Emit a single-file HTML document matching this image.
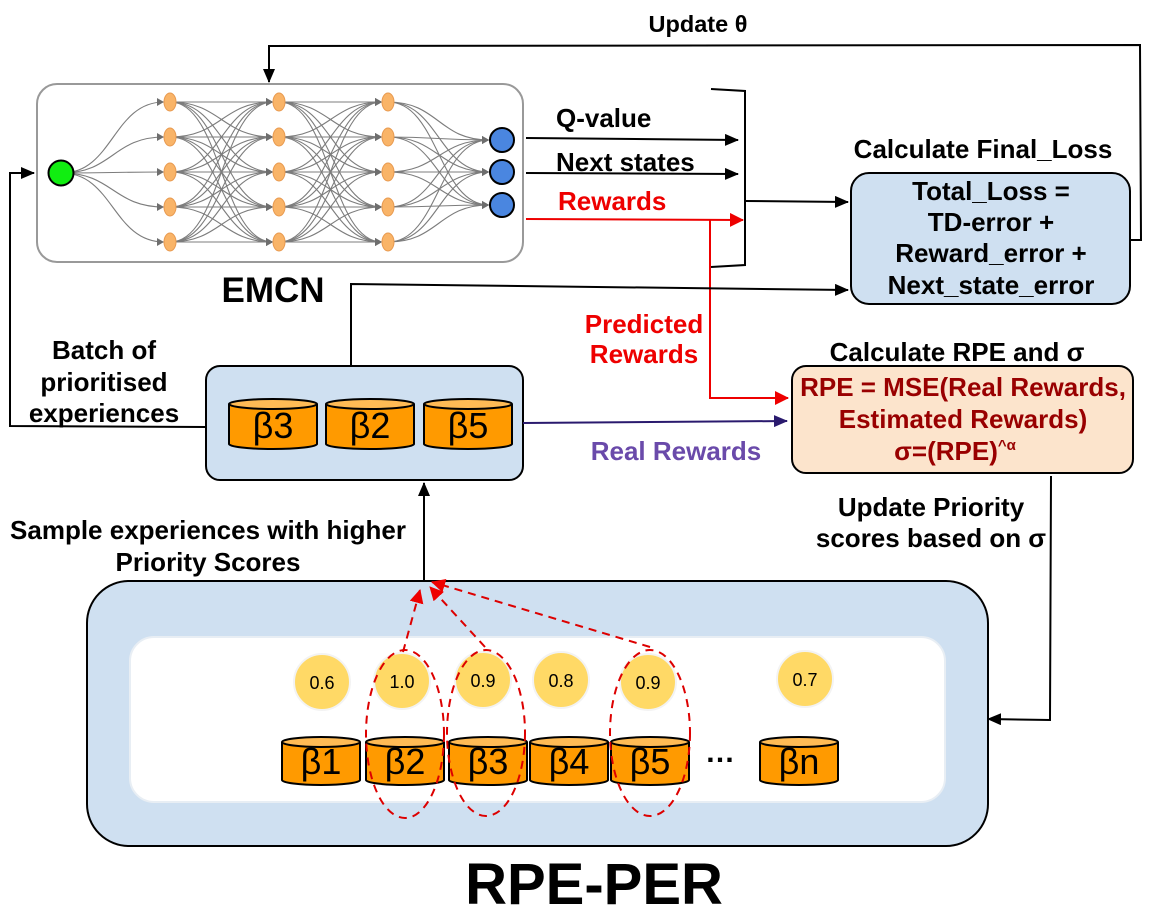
<!DOCTYPE html>
<html><head><meta charset="utf-8"><style>
body{margin:0;background:#fff}
svg{display:block;font-family:"Liberation Sans",sans-serif}
</style></head><body>
<svg id="s" width="1159" height="909" viewBox="0 0 1159 909" xmlns="http://www.w3.org/2000/svg">
<defs>
<marker id="ak" markerWidth="14" markerHeight="12" refX="13" refY="6" orient="auto" markerUnits="userSpaceOnUse"><path d="M0,0 L14,6 L0,12 z" fill="#000"/></marker>
<marker id="ar" markerWidth="14" markerHeight="14" refX="13" refY="7" orient="auto" markerUnits="userSpaceOnUse"><path d="M0,0 L14,7 L0,14 z" fill="#e00"/></marker>
<marker id="ap" markerWidth="14" markerHeight="12" refX="13" refY="6" orient="auto" markerUnits="userSpaceOnUse"><path d="M0,0 L14,6 L0,12 z" fill="#2a1a6e"/></marker>
<marker id="ag" markerWidth="7" markerHeight="8" refX="7" refY="4" orient="auto" markerUnits="userSpaceOnUse"><path d="M0,0 L7,4 L0,8 z" fill="#555"/></marker>
</defs>
<rect x="37" y="84" width="486" height="178" rx="20" fill="#fff" stroke="#999" stroke-width="2"/>
<g id="nn" fill="none" stroke="#666" stroke-width="1.1" opacity="0.85"></g>
<g id="nodes"></g>
<text x="273" y="302" font-size="35" font-weight="bold" text-anchor="middle">EMCN</text>

<text x="556" y="127" font-size="26" font-weight="bold">Q-value</text>
<text x="556" y="171" font-size="26" font-weight="bold">Next  states</text>
<text x="558" y="210" font-size="26" font-weight="bold" fill="#e00">Rewards</text>
<line x1="526" y1="138" x2="738" y2="140" stroke="#000" stroke-width="2" marker-end="url(#ak)"/>
<line x1="526" y1="173" x2="738" y2="174" stroke="#000" stroke-width="2" marker-end="url(#ak)"/>
<line x1="526" y1="219" x2="743" y2="220" stroke="#e00" stroke-width="2" marker-end="url(#ar)"/>
<path d="M711,89 L745,91 L745,265 L711,267" fill="none" stroke="#000" stroke-width="2"/>
<line x1="745" y1="201" x2="848" y2="202" stroke="#000" stroke-width="2" marker-end="url(#ak)"/>

<text x="983" y="158" font-size="26" font-weight="bold" text-anchor="middle">Calculate Final_Loss</text>
<rect x="851" y="173" width="279" height="131" rx="18" fill="#cfe0f1" stroke="#000" stroke-width="2"/>
<g font-size="26" font-weight="bold" text-anchor="middle">
<text x="991" y="200">Total_Loss =</text>
<text x="991" y="231">TD-error +</text>
<text x="991" y="262">Reward_error +</text>
<text x="991" y="294">Next_state_error</text>
</g>
<path d="M1130,240 L1141,240 L1140,45 L269,46 L269,82" fill="none" stroke="#000" stroke-width="2" marker-end="url(#ak)"/>
<text x="698" y="32" font-size="23.5" font-weight="bold" text-anchor="middle">Update θ</text>

<path d="M710,220 L710,398 L788,398" fill="none" stroke="#e00" stroke-width="2" marker-end="url(#ar)"/>
<text x="644" y="333" font-size="26" font-weight="bold" fill="#e00" text-anchor="middle">Predicted</text>
<text x="644" y="363" font-size="26" font-weight="bold" fill="#e00" text-anchor="middle">Rewards</text>

<text x="957" y="361" font-size="26" font-weight="bold" text-anchor="middle">Calculate RPE and σ</text>
<rect x="792" y="366" width="341" height="107" rx="14" fill="#fce4cc" stroke="#000" stroke-width="2"/>
<g font-size="26" font-weight="bold" fill="#990000" text-anchor="middle">
<text x="963" y="396">RPE = MSE(Real Rewards,</text>
<text x="963" y="428">Estimated Rewards)</text>
<text x="955" y="460">σ=(RPE)<tspan font-size="15" dy="-10">^α</tspan></text>
</g>

<rect x="206" y="366" width="317" height="114" rx="14" fill="#cfe0f1" stroke="#000" stroke-width="2"/>
<g id="cyl"></g>
<line x1="523" y1="423" x2="787" y2="421" stroke="#2a1a6e" stroke-width="2" marker-end="url(#ap)"/>
<text x="676" y="460" font-size="26" font-weight="bold" fill="#6a4aaa" text-anchor="middle">Real Rewards</text>
<path d="M351,366 L351,284 L848,290" fill="none" stroke="#000" stroke-width="2" marker-end="url(#ak)"/>
<path d="M206,427 L10,426 L10,173 L34,173" fill="none" stroke="#000" stroke-width="2" marker-end="url(#ak)"/>
<g font-size="26" font-weight="bold" text-anchor="middle">
<text x="104" y="359">Batch of</text>
<text x="104" y="391">prioritised</text>
<text x="104" y="422">experiences</text>
<text x="208" y="539">Sample experiences with higher</text>
<text x="208" y="571">Priority Scores</text>
<text x="931" y="516">Update Priority</text>
<text x="931" y="547">scores based on σ</text>
</g>
<line x1="424" y1="580" x2="424" y2="483" stroke="#000" stroke-width="2" marker-end="url(#ak)"/>
<path d="M1051,476 L1050,720 L988,719" fill="none" stroke="#000" stroke-width="2" marker-end="url(#ak)"/>

<rect x="87" y="581" width="901" height="265" rx="42" fill="#cfe0f1" stroke="#000" stroke-width="2"/>
<rect x="130" y="637" width="815" height="165" rx="24" fill="#fff" stroke="#e8eef4" stroke-width="2"/>
<g id="pri" font-size="18" text-anchor="middle"></g>
<g id="cyl2"></g>
<text x="720" y="762" font-size="30" font-weight="bold" text-anchor="middle">…</text>
<g fill="none" stroke="#d00" stroke-width="2" stroke-dasharray="8,6">
<ellipse cx="405" cy="734" rx="39" ry="84"/>
<ellipse cx="486" cy="733" rx="39" ry="83"/>
<ellipse cx="650" cy="733" rx="40" ry="83"/>
<line x1="403" y1="652" x2="420" y2="590" marker-end="url(#ar)"/>
<line x1="485" y1="647" x2="430" y2="587" marker-end="url(#ar)"/>
<line x1="650" y1="647" x2="432" y2="582" marker-end="url(#ar)"/>
</g>
<text x="594" y="904" font-size="58" font-weight="bold" text-anchor="middle">RPE-PER</text>
</svg>
<script>
const NS="http://www.w3.org/2000/svg";
function el(t,a,p){const e=document.createElementNS(NS,t);for(const k in a)e.setAttribute(k,a[k]);if(p)p.appendChild(e);return e;}
const nn=document.getElementById('nn'),nodes=document.getElementById('nodes');
const L=[170,279,388],Y=[102,137,172,207,242],O=[140,172,205];
function curve(x1,y1,x2,y2){const m=(x1+x2)/2;return `M${x1},${y1} C${m},${y1} ${m},${y2} ${x2},${y2}`;}
Y.forEach(y=>el('path',{d:curve(62,173,164,y),'marker-end':'url(#ag)'},nn));
for(let l=0;l<2;l++)Y.forEach(a=>Y.forEach(b=>el('path',{d:curve(L[l],a,L[l+1]-6,b),'marker-end':'url(#ag)'},nn)));
Y.forEach(a=>O.forEach(b=>el('path',{d:curve(388,a,489,b),'marker-end':'url(#ag)'},nn)));
L.forEach(x=>Y.forEach(y=>el('ellipse',{cx:x,cy:y,rx:6,ry:9,fill:'#f9b468',stroke:'#e89a50'},nodes)));
el('circle',{cx:61,cy:173,r:12.5,fill:'#11ee11',stroke:'#000','stroke-width':2},nodes);
O.forEach(y=>el('circle',{cx:502,cy:y,r:12,fill:'#4a86e0',stroke:'#000','stroke-width':2},nodes));
function cyl(x,y,w,h,lab,g,fs){
 el('path',{d:`M${x},${y} L${x},${y+h} A${w/2},5 0 0 0 ${x+w},${y+h} L${x+w},${y}`,fill:'#ff9a00',stroke:'#000','stroke-width':2},g);
 el('ellipse',{cx:x+w/2,cy:y,rx:w/2,ry:5,fill:'#ffbb55',stroke:'#000','stroke-width':2},g);
 const t=el('text',{x:x+w/2,y:y+h-6,'font-size':fs,'text-anchor':'middle'},g);t.textContent=lab;
}
const cg=document.getElementById('cyl'),cg2=document.getElementById('cyl2');
cyl(229,404,88,40,'β3',cg,36);cyl(326,404,88,40,'β2',cg,36);cyl(424,404,88,40,'β5',cg,36);
[[282,'β1'],[366,'β2'],[449,'β3'],[530,'β4'],[611,'β5'],[760,'βn']].forEach(([x,l])=>cyl(x,742,78,38,l,cg2,36));
const pg=document.getElementById('pri');
[[322,682,'0.6'],[402,681,'1.0'],[483,680,'0.9'],[561,680,'0.8'],[648,682,'0.9'],[805,679,'0.7']].forEach(([x,y,t])=>{
 el('circle',{cx:x,cy:y,r:28,fill:'#ffd966',stroke:'#f3f3f3','stroke-width':2},pg);
 const e=el('text',{x:x,y:y+7},pg);e.textContent=t;});
</script>
</body></html>
